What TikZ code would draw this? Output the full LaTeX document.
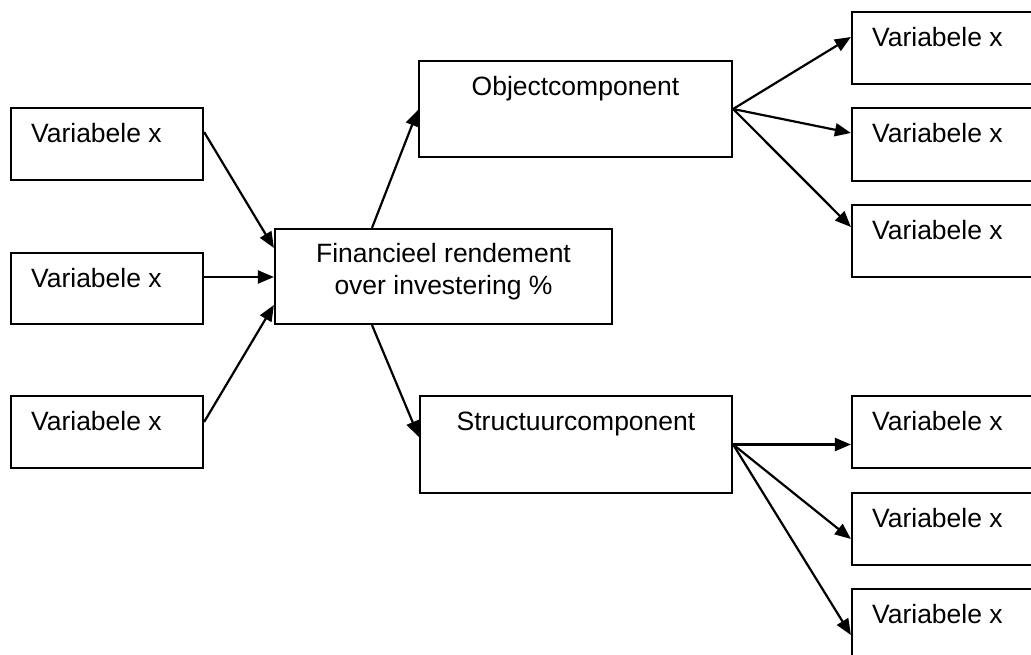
\documentclass[tikz,border=0pt]{standalone}
\usepackage{fontspec}
\setmainfont{Liberation Sans}
\usetikzlibrary{arrows.meta}

\begin{document}
\begin{tikzpicture}[x=1pt,y=-1pt]
\tikzstyle{every node}+=[inner sep=0pt]
\tikzstyle{box}=[draw, line width=2.2pt, minimum height=72pt]
\tikzstyle{vak}=[box, minimum width=208pt]
\tikzstyle{txt}=[font=\fontsize{26.5}{32}\selectfont]
\tikzstyle{pijl}=[line width=2.2pt, -{Triangle[length=16pt,width=13pt]}]
\useasboundingbox (0,0) rectangle (1031,655);
\clip (0,0) rectangle (1031,655);
% linker kolom
\node [box, minimum width=192pt] (l1) at (107,144) {};
\node [box, minimum width=192pt, minimum height=71pt] (l2) at (107,288.5) {};
\node [box, minimum width=192pt] (l3) at (107,432) {};
\node [txt, anchor=base west] (l1t) at ([shift={(21,36)}]l1.north west) {Variabele x};
\node [txt, anchor=base west] (l2t) at ([shift={(21,36)}]l2.north west) {Variabele x};
\node [txt, anchor=base west] (l3t) at ([shift={(21,36)}]l3.north west) {Variabele x};
% midden
\node [box, minimum width=337pt, minimum height=95pt] (fin) at (443.5,276.5) {};
\node [txt, align=center, anchor=north] (fint) at ([yshift=-15.5pt]fin.north) {Financieel rendement\\over investering \%};
\node [box, minimum width=313pt, minimum height=96pt] (obj) at (575.5,109) {};
\node [txt, anchor=base] (objt) at ([yshift=-36pt]obj.north) {Objectcomponent};
\node [box, minimum width=312pt, minimum height=97pt] (str) at (576,444.5) {};
\node [txt, anchor=base] (strt) at ([yshift=-36pt]str.north) {Structuurcomponent};
% rechter kolom
\node [vak] (r1) at (956,48) {};
\node [vak, minimum height=73pt] (r2) at (956,144.5) {};
\node [vak] (r3) at (956,241) {};
\node [vak] (r4) at (956,432) {};
\node [vak] (r5) at (956,529) {};
\node [vak] (r6) at (956,625) {};
\node [txt, anchor=base west] (r1t) at ([shift={(21,36)}]r1.north west) {Variabele x};
\node [txt, anchor=base west] (r2t) at ([shift={(21,36)}]r2.north west) {Variabele x};
\node [txt, anchor=base west] (r3t) at ([shift={(21,36)}]r3.north west) {Variabele x};
\node [txt, anchor=base west] (r4t) at ([shift={(21,36)}]r4.north west) {Variabele x};
\node [txt, anchor=base west] (r5t) at ([shift={(21,36)}]r5.north west) {Variabele x};
\node [txt, anchor=base west] (r6t) at ([shift={(21,36)}]r6.north west) {Variabele x};
% pijlen
\draw [pijl] ([yshift=12pt]l1.east) -- ([yshift=28.5pt]fin.west);
\draw [pijl] ([yshift=11.5pt]l2.east) -- ([yshift=-0.5pt]fin.west);
\draw [pijl] ([yshift=10pt]l3.east) -- ([yshift=-28.5pt]fin.west);
\draw [pijl] ([xshift=-71.5pt]fin.north) -- ([yshift=-1pt]obj.west);
\draw [pijl] ([xshift=-71.5pt]fin.south) -- ([yshift=7.5pt]str.west);
\draw [pijl] (obj.east) -- ([yshift=11pt]r1.west);
\draw [pijl] (obj.east) -- ([yshift=11.5pt]r2.west);
\draw [pijl] (obj.east) -- ([yshift=14pt]r3.west);
\draw [pijl] (str.east) -- ([yshift=-12.5pt]r4.west);
\draw [pijl] (str.east) -- ([yshift=-10pt]r5.west);
\draw [pijl] (str.east) -- ([yshift=-10pt]r6.west);
\end{tikzpicture}
\end{document}
